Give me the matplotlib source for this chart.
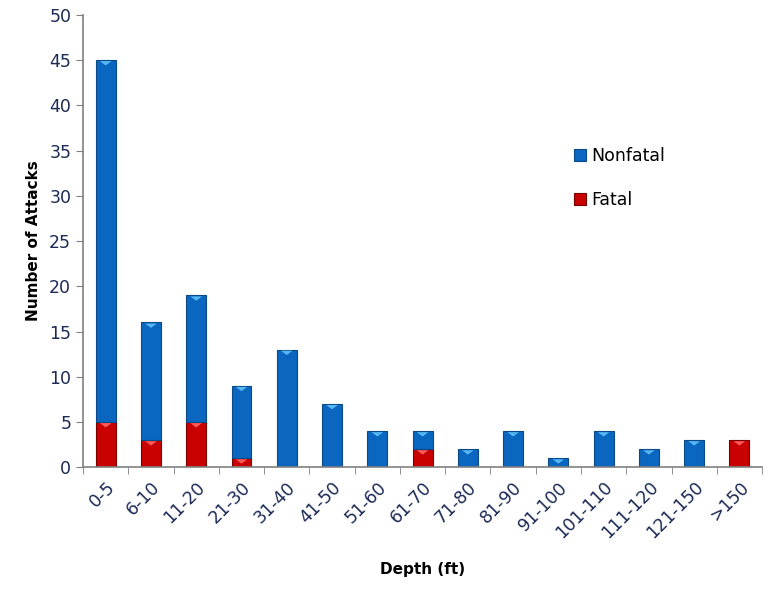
import matplotlib
matplotlib.use("Agg")
import matplotlib.pyplot as plt
import numpy as np

# data
depths = ['0-5', '6-10', '11-20', '21-30', '31-40', '41-50', '51-60', '61-70',
          '71-80', '81-90', '91-100', '101-110', '111-120', '121-150', '>150']
fatal = [5, 3, 5, 1, 0, 0, 0, 2, 0, 0, 0, 0, 0, 0, 3]
nonfatal = [40, 13, 14, 8, 13, 7, 4, 2, 2, 4, 1, 4, 2, 3, 0]

blue = '#0b66c0'
blue_edge = '#0a4a8a'
blue_hi = '#55b8f2'
red = '#c80000'
red_edge = '#7a0000'
red_hi = '#ff5a5a'
text_col = '#1c2a55'

fig = plt.figure(figsize=(7.69, 5.90), dpi=100)
ax = fig.add_axes([0.108, 0.208, 0.883, 0.767])

x = np.arange(len(depths))
w = 0.44
fatal = np.array(fatal)
nonfatal = np.array(nonfatal)

# no outline on empty segments
ax.bar(x, fatal, w, color=red, edgecolor=red_edge, linewidth=np.where(fatal > 0, 0.8, 0),
       label='Fatal', zorder=2)
ax.bar(x, nonfatal, w, bottom=fatal, color=blue, edgecolor=blue_edge,
       linewidth=np.where(nonfatal > 0, 0.8, 0), label='Nonfatal', zorder=2)

# flat bevel triangle at the top of each segment
tri = [(-1, 0), (1, 0), (0, -0.75)]
mf = fatal > 0
ax.scatter(x[mf], fatal[mf] - 0.12, marker=tri, s=70, color=red_hi, edgecolors='none', zorder=3)
mn = nonfatal > 0
ax.scatter(x[mn], (fatal + nonfatal)[mn] - 0.12, marker=tri, s=70, color=blue_hi,
           edgecolors='none', zorder=3)

ax.set_xlim(-0.5, len(depths) - 0.5)
ax.set_ylim(0, 50)
ax.set_yticks(np.arange(0, 51, 5))
ax.set_xticks(x)
ax.set_xticklabels(depths, rotation=45, ha='right', rotation_mode='anchor')
ax.set_xticks(np.arange(-0.5, len(depths), 1), minor=True)
ax.tick_params(axis='x', which='major', length=0, pad=8, labelsize=12.5, labelcolor=text_col)
ax.tick_params(axis='x', which='minor', length=5, color='#808080', direction='out')
ax.tick_params(axis='y', length=5, color='#808080', labelsize=12.5, labelcolor=text_col)

for s in ['top', 'right']:
    ax.spines[s].set_visible(False)
for s in ['left', 'bottom']:
    ax.spines[s].set_color('#808080')
    ax.spines[s].set_linewidth(1.2)

ax.set_xlabel('Depth (ft)', fontsize=11, fontweight='bold', labelpad=14)
ax.set_ylabel('Number of Attacks', fontsize=11, fontweight='bold', labelpad=6)

h, l = ax.get_legend_handles_labels()
leg = ax.legend(h[::-1], l[::-1], loc='upper left', bbox_to_anchor=(0.70, 0.743), frameon=False,
                fontsize=12.5, handlelength=0.7, handleheight=0.7, handletextpad=0.3,
                labelspacing=1.5)
for t in leg.get_texts():
    t.set_color('black')

fig.savefig('out.png', dpi=100)
